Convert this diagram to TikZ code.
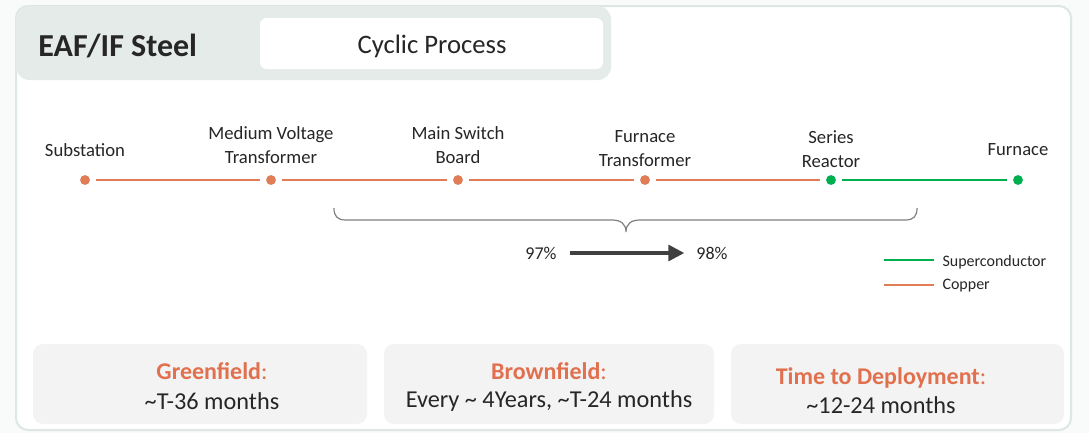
\documentclass[tikz,border=0pt]{standalone}
\usepackage{fontspec}
\setmainfont{Carlito}
\usetikzlibrary{arrows.meta}

\definecolor{copperline}{RGB}{224,124,86}
\definecolor{scgreen}{RGB}{0,176,80}
\definecolor{titleorange}{RGB}{224,112,78}
\definecolor{textdark}{RGB}{38,38,38}
\definecolor{framegray}{RGB}{222,231,228}
\definecolor{headgray}{RGB}{229,235,233}
\definecolor{cardgray}{RGB}{243,243,243}
\definecolor{pagebg}{RGB}{249,250,250}

\tikzset{every picture/.style={line width=0.75pt}}
\tikzset{
  dot/.style={circle,inner sep=0pt,minimum size=7.4pt},
  cudot/.style={dot,fill=copperline},
  scdot/.style={dot,fill=scgreen},
  cuwire/.style={draw=copperline,line width=2.2pt,shorten <=4.5pt,shorten >=4.5pt},
  scwire/.style={draw=scgreen,line width=2.2pt,shorten <=4.5pt,shorten >=4.5pt},
  lbl/.style={align=center,text=textdark,font=\fontsize{14}{18}\selectfont},
  card/.style={fill=cardgray,rounded corners=7.5pt},
  cardhead/.style={text=titleorange,font=\fontsize{18}{20}\selectfont},
  cardbody/.style={text=textdark,font=\fontsize{18.2}{21}\selectfont}
}

\begin{document}
\begin{tikzpicture}[x=0.75pt,y=0.75pt,yscale=-1,xscale=1]
% page and frame
\fill [pagebg] (0,0) rectangle (1089,433);
\draw [draw=framegray,fill=white,line width=1.5pt,rounded corners=9pt] (16,6) rectangle (1071,430);

% header
\fill [headgray,rounded corners=10pt] (16,6) rectangle (611,80);
\fill [white,rounded corners=5pt] (260,18) rectangle (603,69);
\node [anchor=west,inner sep=0.75pt,text=textdark,font=\fontsize{24}{26}\selectfont\bfseries] (sector) at (37,46) {EAF/IF Steel};
\node [inner sep=0.75pt,text=textdark,font=\fontsize{20}{22}\selectfont] (process) at (432,46) {Cyclic Process};

% power chain
\node [cudot] (sub) at (85,180) {};
\node [cudot] (mvt) at (271,180) {};
\node [cudot] (msb) at (458,180) {};
\node [cudot] (ftr) at (645,180) {};
\node [scdot] (srx) at (831,180) {};
\node [scdot] (fur) at (1018,180) {};

\draw [cuwire] (sub) -- (mvt);
\draw [cuwire] (mvt) -- (msb);
\draw [cuwire] (msb) -- (ftr);
\draw [cuwire] (ftr) -- (srx);
\draw [scwire] (srx) -- (fur);

% Text Node
\node [lbl] (subTxt) at (85,150) {Substation};
\node [lbl] (mvtTxt) at (271,145) {Medium Voltage\\Transformer};
\node [lbl] (msbTxt) at (458,145) {Main Switch\\Board};
\node [lbl] (ftrTxt) at (645,149) {Furnace\\Transformer};
\node [lbl] (srxTxt) at (831,149) {Series\\Reactor};
\node [lbl] (furTxt) at (1018,150) {Furnace};

% brace under the copper section
\draw [draw={rgb,255:red,128;green,128;blue,128},line width=0.9pt] (334,208) .. controls (334,216) and (337,220) .. (346,220) -- (612,220) .. controls (621,220) and (626,224) .. (626,232) .. controls (626,224) and (631,220) .. (640,220) -- (905,220) .. controls (914,220) and (917,216) .. (917,208) ;

% efficiency gain
\node [inner sep=0.75pt,text=textdark,font=\fontsize{13.5}{15}\selectfont] (effOld) at (541,253) {97\%};
\node [inner sep=0.75pt,text=textdark,font=\fontsize{13.5}{15}\selectfont] (effNew) at (712,253) {98\%};
\draw [draw={rgb,255:red,64;green,64;blue,64},line width=2.4pt,-{Triangle[length=12pt,width=12pt]},shorten <=9pt,shorten >=8pt] (effOld) -- (effNew);

% legend
\coordinate (scA) at (884,260);
\coordinate (scB) at (934,260);
\coordinate (cuA) at (884,285);
\coordinate (cuB) at (934,285);
\draw [draw=scgreen,line width=2.2pt] (scA) -- (scB);
\draw [draw=copperline,line width=2.2pt] (cuA) -- (cuB);
\node [anchor=west,inner sep=0.75pt,text=textdark,font=\fontsize{12}{14}\selectfont] (scTxt) at (941,262) {Superconductor};
\node [anchor=west,inner sep=0.75pt,text=textdark,font=\fontsize{12}{14}\selectfont] (cuTxt) at (941,286) {Copper};

% timing cards
\fill [card] (33,344) rectangle (367,424);
\fill [card] (384,344) rectangle (714,424);
\fill [card] (731,344) rectangle (1064,424);

\node [cardhead] (greenHead) at (212,371) {\textbf{Greenfield}:};
\node [cardbody] (greenBody) at (212,401) {\textasciitilde T-36 months};
\node [cardhead] (brownHead) at (549,371) {\textbf{Brownfield}:};
\node [cardbody] (brownBody) at (549,401) {Every \textasciitilde{} 4Years, \textasciitilde T-24 months};
\node [cardhead] (deployHead) at (881,378) {\textbf{Time to Deployment}:};
\node [cardbody] (deployBody) at (881,405) {\textasciitilde 12-24 months};

\end{tikzpicture}
\end{document}
